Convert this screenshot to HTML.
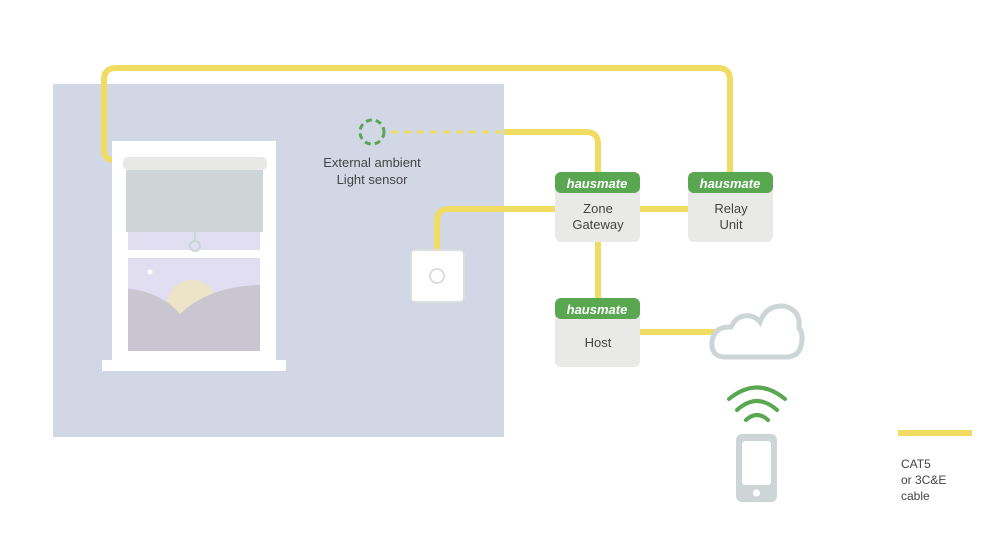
<!DOCTYPE html><html><head><style>body{margin:0;width:998px;height:555px;background:#fff;overflow:hidden;font-family:"Liberation Sans",sans-serif}</style></head><body>
<svg width="998" height="555" xmlns="http://www.w3.org/2000/svg" font-family="Liberation Sans, sans-serif">
<rect x="53" y="84" width="451" height="353" fill="#d1d7e4"/>
<g fill="none" stroke="#f0dc62" stroke-width="6">
<path d="M123 160 H114 Q104 160 104 150 V80 Q104 68 116 68 H718 Q730 68 730 80 V172"/>
<path d="M504 132 H586 Q598 132 598 144 V172"/>
<path d="M437 250 V221 Q437 209 449 209 H555"/>
<path d="M640 209 H688"/>
<path d="M598 242 V298"/>
<path d="M640 332 H715"/>
<path d="M898 433 H972"/>
</g>
<path d="M391 132 H504" stroke="#f0dc62" stroke-width="3" stroke-dasharray="7,6"/>
<circle cx="372" cy="132" r="12" fill="none" stroke="#5aa752" stroke-width="3" stroke-dasharray="6,4"/>
<text x="372" y="167" font-size="13" fill="#444" text-anchor="middle">External ambient</text>
<text x="372" y="184" font-size="13" fill="#444" text-anchor="middle">Light sensor</text>
<rect x="112" y="141" width="164" height="220" fill="#fff"/>
<rect x="102" y="360" width="184" height="11" fill="#fff"/>
<rect x="128" y="232" width="132" height="18" fill="#e0def0"/>
<rect x="128" y="258" width="132" height="93" fill="#e0def0"/>
<clipPath id="lp"><rect x="128" y="258" width="132" height="93"/></clipPath>
<g clip-path="url(#lp)">
<circle cx="192" cy="305" r="25" fill="#ede4c8"/>
<path d="M120 288 Q160 290 180 314 Q210 285 265 285 V351 H120 Z" fill="#c9c6d2"/>
</g>
<circle cx="150" cy="272" r="2.5" fill="#fff"/>
<rect x="126" y="170" width="137" height="62" fill="#cdd5d7"/>
<rect x="123" y="157" width="144" height="13" rx="5" fill="#e8e8e6"/>
<line x1="195" y1="232" x2="195" y2="241" stroke="#cdd5d7" stroke-width="2"/>
<circle cx="195" cy="246" r="5" fill="none" stroke="#cdd5d7" stroke-width="2"/>
<rect x="411" y="250" width="53" height="52" rx="4" fill="#fff" stroke="#ddd" stroke-width="2"/>
<circle cx="437" cy="276" r="7" fill="none" stroke="#ddd" stroke-width="2"/>
<g font-size="13" fill="#444" text-anchor="middle">
<rect x="555" y="172" width="85" height="70" rx="6" fill="#e9e9e7"/>
<rect x="555" y="172" width="85" height="21" rx="6" fill="#5aa752"/>
<text x="597" y="188" fill="#fff" font-weight="bold" font-style="italic" font-size="13">hausmate</text>
<text x="598" y="213">Zone</text><text x="598" y="229">Gateway</text>
<rect x="688" y="172" width="85" height="70" rx="6" fill="#e9e9e7"/>
<rect x="688" y="172" width="85" height="21" rx="6" fill="#5aa752"/>
<text x="730" y="188" fill="#fff" font-weight="bold" font-style="italic" font-size="13">hausmate</text>
<text x="731" y="213">Relay</text><text x="731" y="229">Unit</text>
<rect x="555" y="298" width="85" height="69" rx="6" fill="#e9e9e7"/>
<rect x="555" y="298" width="85" height="21" rx="6" fill="#5aa752"/>
<text x="597" y="314" fill="#fff" font-weight="bold" font-style="italic" font-size="13">hausmate</text>
<text x="598" y="347">Host</text>
</g>
<path d="M724 357 Q711 356 712 342 Q714 326 731 327 Q737 314 751 316 Q757 318 760 322 Q766 305 784 306 Q801 310 799 328 Q804 334 801 346 Q798 357 786 357 Z" fill="#fff" stroke="#cdd5d7" stroke-width="5"/>
<g fill="none" stroke="#5aa752" stroke-width="4" stroke-linecap="round">
<path d="M729 399 Q757 376 785 399"/>
<path d="M737 410 Q757 392 777 410"/>
<path d="M746 420 Q757 410 768 420"/>
</g>
<rect x="736" y="434" width="41" height="68" rx="6" fill="#cdd5d7"/>
<rect x="742" y="441" width="29" height="44" rx="3" fill="#fff"/>
<circle cx="756.5" cy="493" r="3.5" fill="#fff"/>
<g font-size="12" fill="#444"><text x="901" y="468">CAT5</text><text x="901" y="484">or 3C&amp;E</text><text x="901" y="500">cable</text></g>
</svg></body></html>
